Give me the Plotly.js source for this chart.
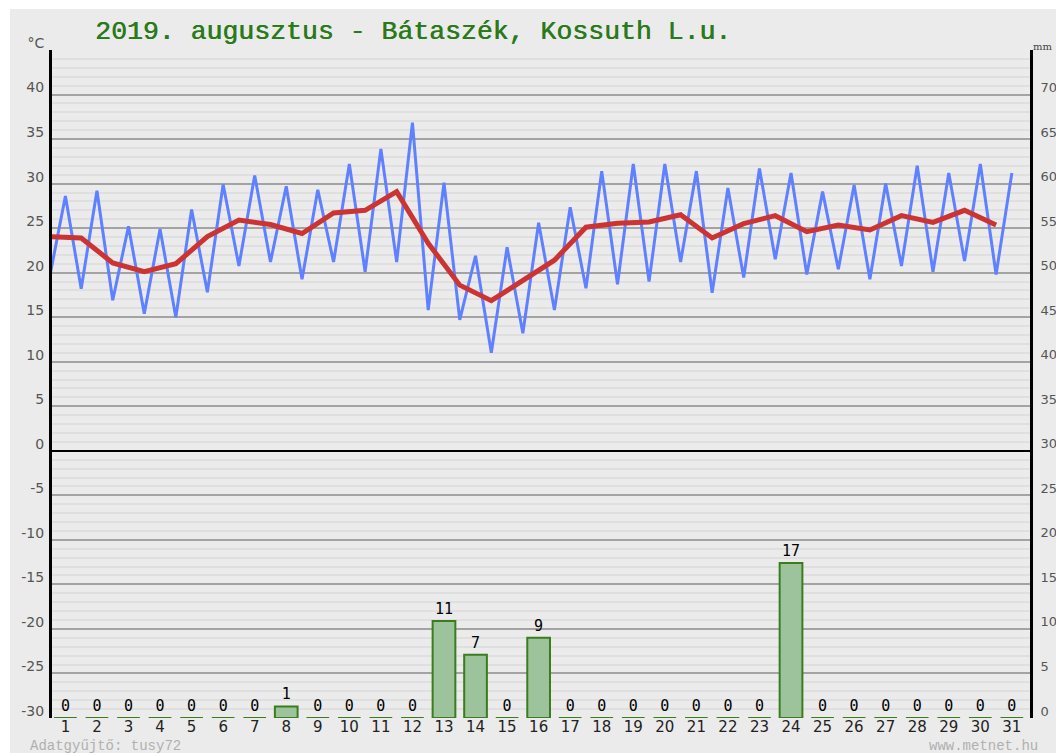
<!DOCTYPE html>
<html>
<head>
<meta charset="utf-8">
<script src="https://cdn.plot.ly/plotly-3.0.1.min.js"></script>
<style>
  html, body { margin: 0; padding: 0; background: #ffffff; }
  #wrap { position: absolute; left: 10px; top: 9px; width: 1046px; height: 744px; }
  #chart { width: 1046px; height: 744px; }
</style>
</head>
<body>
<div id="wrap"><div id="chart"></div></div>
<script>
// ---- data ----
const days = [1,2,3,4,5,6,7,8,9,10,11,12,13,14,15,16,17,18,19,20,21,22,23,24,25,26,27,28,29,30,31];
const tMin = [19.5,18.2,16.9,15.4,15.0,17.8,20.75,21.2,19.25,21.2,20.1,21.2,15.8,14.7,11.0,13.2,15.8,18.25,18.7,19.0,21.2,17.75,19.45,21.5,19.8,20.4,19.25,20.75,20.1,21.3,19.8];
const tMax = [28.6,29.2,25.2,24.9,27.1,29.9,30.9,29.7,29.3,32.2,33.9,36.85,30.1,21.9,22.85,25.6,27.35,31.4,32.2,32.2,31.4,29.5,31.7,31.2,29.1,29.85,30.0,32.0,31.2,32.2,31.2];
const tAvg = [24.05,23.9,21.1,20.1,21.0,24.05,25.9,25.4,24.4,26.7,27.0,29.1,23.3,18.6,16.85,19.2,21.4,25.1,25.55,25.7,26.5,23.9,25.5,26.4,24.6,25.35,24.8,26.4,25.65,27.0,25.35];
const precip = [0,0,0,0,0,0,0,1.3,0,0,0,0,10.9,7.1,0,9.0,0,0,0,0,0,0,0,17.4,0,0,0,0,0,0,0];
const precipLabels = ["0","0","0","0","0","0","0","1","0","0","0","0","11","7","0","9","0","0","0","0","0","0","0","17","0","0","0","0","0","0","0"];
const tempTicks = [-30,-25,-20,-15,-10,-5,0,5,10,15,20,25,30,35,40,45];
const tempTickText = ["-30","-25","-20","-15","-10","-5","0","5","10","15","20","25","30","35","40","°C"];
const mmTicks = [0,5,10,15,20,25,30,35,40,45,50,55,60,65,70,75];
const mmTickText = ["0","5","10","15","20","25","30","35","40","45","50","55","60","65","70",""];
const mmUnit = "mm";
const titleText = "2019. augusztus - Bátaszék, Kossuth L.u.";

// min at the half-day before, max at the day
const lineX = [], lineY = [];
days.forEach((d, i) => { lineX.push(d - 0.5); lineY.push(tMin[i]); lineX.push(d); lineY.push(tMax[i]); });
const avgX = days.map(d => d - 0.5);

const traces = [
  {
    type: 'bar', x: days, y: precip, yaxis: 'y2', width: 0.72,
    marker: { color: '#9cc39c', line: { color: '#3a7d1c', width: 2 } },
    text: precipLabels, textposition: 'outside', cliponaxis: false,
    textfont: { family: 'DejaVu Sans Mono, monospace', size: 15, color: '#000' },
    hoverinfo: 'skip'
  },
  {
    type: 'scatter', mode: 'lines', x: lineX, y: lineY,
    line: { color: '#5f80ff', width: 3 }, hoverinfo: 'skip'
  },
  {
    type: 'scatter', mode: 'lines', x: avgX, y: tAvg,
    line: { color: '#cc3333', width: 5 }, hoverinfo: 'skip'
  }
];

const layout = {
  width: 1046, height: 744,
  margin: { l: 42, r: 26, t: 41, b: 35, pad: 0 },
  paper_bgcolor: '#ebebeb', plot_bgcolor: '#ebebeb',
  showlegend: false,
  bargap: 0,
  title: {
    text: titleText,
    font: { family: 'Liberation Mono, Courier New, monospace', size: 26.5, color: '#2a7a1a',
            shadow: '0.6px 0px 0px #2a7a1a' },
    x: 85 / 1046, xanchor: 'left', xref: 'container',
    y: 1 - 21 / 744, yanchor: 'middle', yref: 'container'
  },
  xaxis: {
    range: [0.575, 31.575], tickvals: days, ticktext: days.map(String),
    showgrid: false, zeroline: false, showline: false, ticks: '',
    ticklabelstandoff: -2,
    tickfont: { family: 'DejaVu Sans, sans-serif', size: 15, color: '#222' },
    fixedrange: true
  },
  yaxis: {
    range: [-30, 45], tickvals: tempTicks, ticktext: tempTickText,
    showgrid: true, gridcolor: '#a3a3a3', gridwidth: 2,
    minor: { dtick: 1, showgrid: true, gridcolor: '#dfdfdf', gridwidth: 2, ticks: '' },
    zeroline: true, zerolinecolor: '#000', zerolinewidth: 2,
    showline: true, linecolor: '#000', linewidth: 3, mirror: false,
    ticks: '', ticklabelshift: -7, ticklabelstandoff: 2,
    tickfont: { family: 'DejaVu Sans, sans-serif', size: 14, color: '#555' },
    fixedrange: true
  },
  yaxis2: {
    overlaying: 'y', side: 'right',
    range: [0, 75], tickvals: mmTicks, ticktext: mmTickText,
    showgrid: false, zeroline: false,
    showline: true, linecolor: '#000', linewidth: 3,
    ticks: '', ticklabelshift: -7, ticklabelstandoff: 5,
    tickfont: { family: 'DejaVu Sans, sans-serif', size: 13, color: '#555' },
    fixedrange: true
  },
  annotations: [
    { text: mmUnit, xref: 'paper', yref: 'paper', x: (1044 - 42) / 978, y: 1 + 4 / 668,
      xanchor: 'right', yanchor: 'middle', showarrow: false,
      font: { family: 'DejaVu Serif, serif', size: 10, color: '#444' } },
    { text: 'Adatgyűjtő: tusy72', xref: 'paper', yref: 'paper', x: -24 / 978, y: -28 / 668,
      xanchor: 'left', yanchor: 'middle', showarrow: false,
      font: { family: 'Liberation Mono, Courier New, monospace', size: 14, color: '#b0b0b0' } },
    { text: 'www.metnet.hu', xref: 'paper', yref: 'paper', x: (1030 - 42) / 978, y: -28 / 668,
      xanchor: 'right', yanchor: 'middle', showarrow: false,
      font: { family: 'Liberation Mono, Courier New, monospace', size: 14, color: '#b0b0b0' } }
  ]
};

Plotly.newPlot('chart', traces, layout, { displayModeBar: false, staticPlot: true });
</script>
</body>
</html>
